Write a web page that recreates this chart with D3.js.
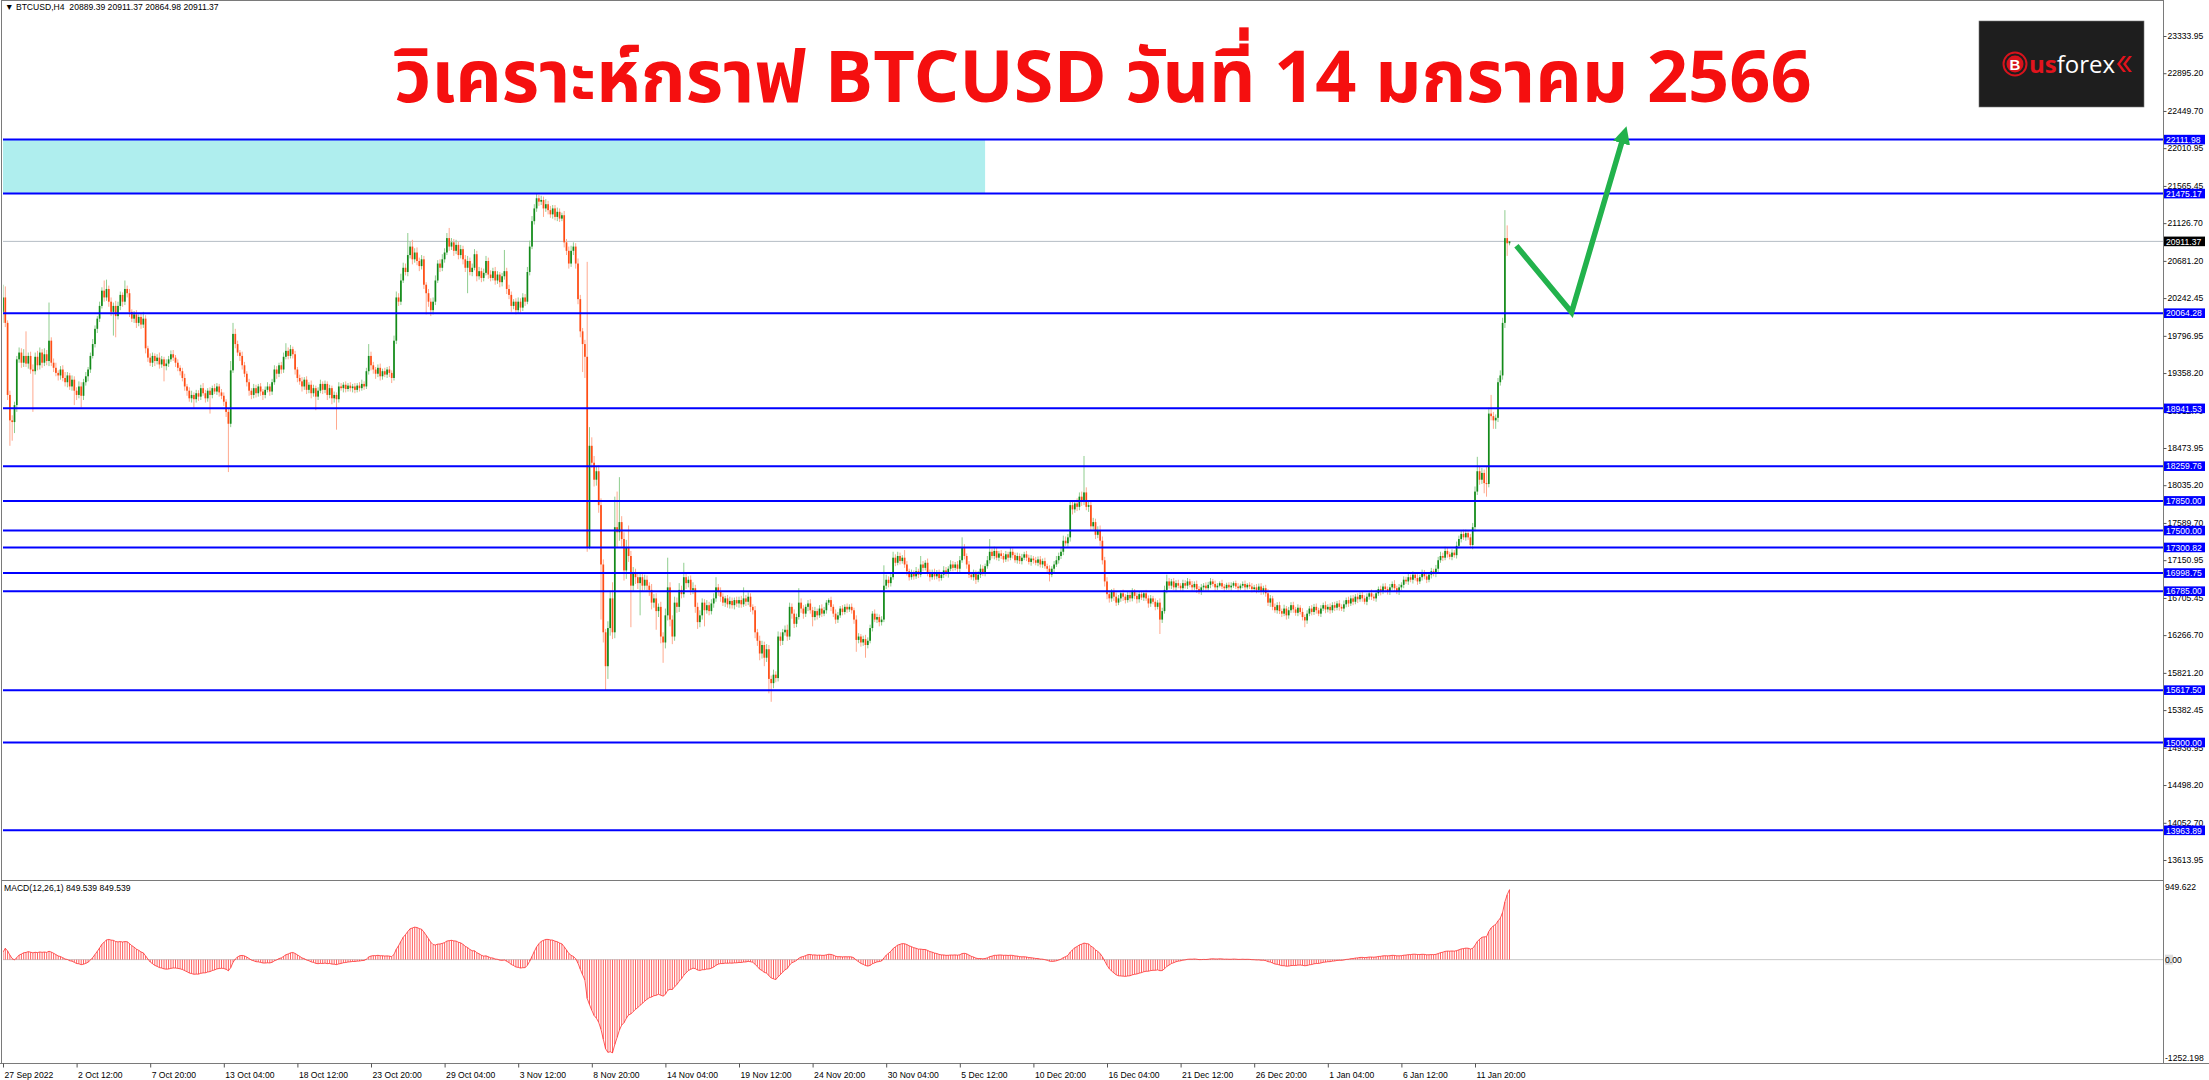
<!DOCTYPE html>
<html>
<head>
<meta charset="utf-8">
<title>BTCUSD H4</title>
<script src="https://cdn.jsdelivr.net/npm/d3@7"></script>
<style>
  html, body { margin: 0; padding: 0; background: #fff; }
  svg { display: block; }
  .mt text { font-family: "Liberation Sans", Arial, sans-serif; font-size: 8.6px; fill: #000; }
</style>
</head>
<body>
<div id="chart"></div>
<script>
// ---- data (BTCUSD H4) ----
const symbol = 'BTCUSD,H4';
const firstBar = Date.UTC(2022, 8, 27, 4);   // 27 Sep 2022 04:00, first visible bar
const barHours = 4;
const firstOpen = 20080;
const priorClose = 19100;                     // level before the first bar, warms up the MACD EMAs

// closes, 16 bars per row; each bar opens at the previous close (24/7 market)
const closes = [
  20250,19950,19100,18800,18780,18980,19520,19600,19480,19560,19470,19560,19400,19380,19550,19450,
  19600,19480,19580,19500,19740,19480,19420,19360,19330,19400,19300,19250,19330,19200,19280,19150,
  19100,19200,19090,19250,19320,19400,19560,19700,19880,20000,20150,20330,20250,20350,20200,20080,
  20150,20030,20150,20280,20200,20350,20300,20080,20000,20050,19950,20020,19930,20000,19650,19540,
  19480,19560,19500,19540,19460,19520,19440,19470,19520,19580,19540,19480,19420,19380,19300,19200,
  19150,19060,19100,19050,19120,19080,19180,19120,19060,19150,19100,19180,19140,19200,19130,19090,
  19020,18900,18760,19390,19820,19700,19600,19560,19450,19350,19250,19150,19100,19180,19120,19200,
  19140,19100,19160,19200,19140,19250,19400,19350,19450,19400,19550,19620,19560,19640,19580,19400,
  19300,19260,19200,19280,19160,19220,19120,19180,19080,19150,19230,19160,19230,19100,19180,19060,
  19100,19050,19200,19180,19220,19170,19210,19180,19200,19160,19210,19180,19230,19200,19380,19560,
  19450,19400,19350,19420,19320,19380,19340,19400,19360,19300,19740,20250,20200,20450,20600,20550,
  20750,20850,20700,20780,20680,20620,20700,20400,20300,20200,20100,20200,20450,20650,20600,20700,
  20780,20950,20850,20900,20800,20870,20750,20820,20700,20600,20680,20550,20600,20760,20500,20560,
  20480,20540,20680,20520,20480,20560,20450,20520,20430,20500,20560,20350,20280,20150,20200,20100,
  20200,20130,20250,20200,20550,20850,21150,21300,21420,21380,21400,21300,21350,21280,21230,21300,
  21200,21260,21180,21220,20900,20800,20650,20800,20850,20650,20230,19850,19700,19550,17300,18500,
  18300,18100,18200,17800,17100,16300,15900,16350,16700,16300,17540,17480,17600,17400,17030,17300,
  17200,16850,17000,16950,16880,16950,16850,16920,16850,16800,16650,16700,16550,16600,16250,16180,
  16500,16830,16450,16250,16650,16600,16800,16750,16950,16880,16920,16800,16820,16600,16420,16500,
  16650,16560,16620,16550,16640,16700,16830,16780,16720,16650,16700,16630,16670,16620,16680,16640,
  16680,16630,16700,16660,16720,16600,16560,16300,16200,16050,16150,16000,16100,15750,15700,15800,
  15760,16250,16200,16300,16330,16250,16600,16520,16400,16480,16650,16580,16520,16600,16640,16560,
  16480,16550,16500,16580,16520,16560,16650,16680,16600,16520,16450,16500,16580,16540,16600,16570,
  16600,16560,16450,16210,16250,16180,16220,16150,16200,16350,16520,16450,16480,16420,16450,16850,
  16920,16880,16950,17180,17120,17200,17140,17180,17100,17020,16950,17000,16960,17020,16980,17100,
  17060,17120,17000,16950,17010,16960,17000,16940,16980,17030,16990,17050,17100,17060,17100,17050,
  17150,17300,17200,17100,16980,16950,17000,16920,16980,17050,17000,17080,17150,17250,17200,17260,
  17180,17230,17200,17160,17220,17180,17250,17210,17150,17200,17140,17180,17220,17180,17130,17170,
  17150,17120,17160,17100,17140,17080,17050,16980,17050,17100,17150,17200,17250,17380,17350,17420,
  17800,17750,17820,17780,17900,17850,17950,17780,17800,17550,17600,17450,17500,17380,17150,16900,
  16750,16700,16780,16720,16650,16700,16760,16720,16680,16740,16700,16780,16730,16690,16750,16710,
  16760,16700,16640,16700,16660,16600,16650,16450,16550,16800,16900,16850,16900,16830,16880,16850,
  16820,16880,16850,16900,16860,16830,16870,16810,16780,16830,16850,16820,16860,16900,16870,16830,
  16850,16880,16840,16820,16860,16830,16850,16880,16840,16820,16850,16870,16830,16860,16840,16810,
  16830,16800,16840,16780,16820,16760,16650,16700,16600,16560,16620,16550,16520,16580,16500,16560,
  16620,16570,16530,16590,16540,16480,16440,16520,16580,16540,16600,16560,16520,16580,16620,16570,
  16600,16560,16620,16590,16640,16600,16580,16630,16680,16640,16700,16660,16720,16690,16740,16700,
  16660,16720,16760,16720,16700,16760,16810,16780,16840,16810,16780,16830,16870,16820,16780,16830,
  16860,16920,16900,16950,16920,16980,16940,16900,16950,17000,16960,16920,16980,17020,16990,17050,
  17150,17200,17180,17260,17220,17190,17240,17210,17320,17400,17460,17420,17470,17420,17330,17540,
  17960,18200,18100,18180,18060,18050,18880,18850,18800,18830,19250,19330,19950,20950,20889.39,20911.37
];

// upper wick above the body, in dollars
const wickUp = [
  150,130,30,50,60,40,40,60,50,80,290,40,50,60,50,70,
  60,40,70,50,450,40,50,60,30,40,50,70,40,30,50,40,
  40,60,50,40,50,30,40,60,40,30,50,40,120,110,40,50,
  40,60,50,40,30,100,40,50,30,40,50,30,40,80,40,30,
  50,40,30,40,60,40,30,50,40,45,50,30,40,30,40,50,
  30,40,50,30,40,35,40,60,40,30,40,30,50,40,30,40,
  40,30,40,110,130,60,40,30,50,40,30,40,30,50,40,30,
  40,30,40,50,30,40,50,40,30,40,50,90,40,50,30,40,
  30,40,50,30,40,30,50,40,30,40,50,30,40,30,40,30,
  40,30,50,40,30,40,30,40,30,40,30,40,50,30,40,140,
  50,40,30,40,50,30,40,30,40,30,60,70,50,80,60,50,
  260,60,80,50,60,40,50,40,30,50,40,50,60,40,50,60,
  50,60,120,50,40,60,40,50,40,50,60,40,50,60,40,50,
  40,50,60,40,50,40,50,40,30,40,250,40,50,40,30,40,
  50,40,50,40,60,70,60,50,50,40,50,40,60,40,50,40,
  40,50,40,30,50,40,50,60,50,40,60,50,40,50,1120,220,
  100,80,60,70,80,60,40,80,90,190,360,420,530,70,80,90,
  260,60,70,50,60,40,50,60,50,40,70,50,60,40,60,50,
  80,350,60,50,70,60,80,50,170,60,40,50,70,40,50,60,
  50,40,60,40,50,60,120,40,50,40,30,40,50,40,30,40,
  40,50,130,40,50,40,30,50,40,60,50,40,60,50,40,60,
  40,60,50,40,50,60,50,40,50,40,170,50,40,30,40,50,
  40,50,30,40,50,40,30,20,40,30,50,40,30,40,30,40,
  30,40,30,50,40,30,40,50,40,40,30,50,40,30,40,240,
  60,40,50,70,40,50,40,30,90,40,30,40,30,50,30,100,
  40,30,50,40,30,40,35,40,30,50,40,30,50,40,30,40,
  50,120,40,30,40,30,40,30,40,50,40,30,50,150,40,50,
  40,30,40,35,40,30,50,40,30,40,30,45,30,40,35,40,
  30,40,35,40,30,40,30,40,30,40,50,40,50,60,50,40,
  60,50,40,60,50,60,430,60,50,40,50,40,50,60,50,40,
  50,40,30,40,50,40,30,45,30,40,35,40,30,40,35,40,
  30,40,35,40,30,40,30,50,40,50,80,40,30,40,35,40,
  30,40,35,40,30,45,30,40,35,40,30,40,35,40,30,40,
  30,20,40,30,25,30,40,20,30,40,25,30,40,20,30,40,
  30,40,35,40,30,40,50,40,30,40,35,40,30,45,30,40,
  35,40,30,40,30,45,30,40,30,40,35,40,30,40,30,45,
  30,40,35,40,30,40,30,45,30,40,35,40,30,40,30,40,
  35,40,30,45,30,40,30,40,35,40,30,40,30,45,30,40,
  30,40,35,40,30,40,30,45,30,40,35,40,30,40,30,45,
  40,50,40,50,40,30,40,30,50,40,40,50,40,30,40,50,
  60,170,50,60,40,200,70,220,50,40,50,60,60,330,150,0
];

// lower wick below the body, in dollars
const wickDn = [
  130,50,60,300,220,130,80,40,60,50,40,60,50,480,40,60,
  50,60,40,50,60,40,50,40,60,50,40,50,60,40,50,170,
  60,40,140,50,40,60,40,30,40,50,40,30,50,40,60,50,
  280,250,40,50,60,40,50,60,40,50,60,40,50,40,60,50,
  40,50,60,40,50,40,180,50,40,30,40,50,40,50,40,50,
  60,40,50,100,40,50,40,30,50,40,220,40,30,40,50,40,
  50,60,570,40,30,50,40,60,50,40,50,60,50,40,50,40,
  50,60,40,30,50,40,30,60,40,50,40,30,40,30,50,60,
  50,40,60,40,50,40,60,40,160,40,30,50,40,60,40,70,
  50,360,40,30,50,40,30,40,50,40,30,40,30,40,30,40,
  60,50,60,40,50,40,30,40,50,60,30,40,50,40,30,40,
  50,40,60,40,50,60,40,50,250,60,70,50,40,30,50,40,
  40,30,50,40,60,40,50,40,60,50,300,40,50,30,60,40,
  50,40,30,50,40,30,50,40,60,50,40,60,50,70,40,50,
  40,60,40,50,30,40,30,40,40,50,40,100,40,50,40,50,
  40,50,40,30,60,50,60,40,50,60,60,70,330,250,50,20,
  60,80,70,90,650,120,280,150,90,80,70,180,100,90,120,100,
  70,490,60,80,70,380,60,50,60,70,80,60,220,70,80,240,
  70,60,80,90,50,70,60,50,40,70,50,60,50,70,80,60,
  50,190,40,50,40,50,40,50,60,40,50,40,50,40,50,40,
  50,40,30,50,40,60,50,70,60,80,60,100,50,170,220,60,
  50,40,60,50,40,50,40,60,50,40,30,50,60,40,50,40,
  110,40,50,30,40,30,40,30,50,40,50,40,30,40,30,40,
  30,40,50,140,40,50,40,150,40,30,40,30,40,50,40,30,
  40,50,40,30,40,30,40,30,40,50,40,30,40,30,40,30,
  40,30,40,50,30,40,35,40,30,40,30,45,30,40,30,40,
  40,30,40,50,40,30,40,50,30,40,35,40,30,40,30,40,
  30,40,35,40,30,45,30,40,30,40,35,40,30,40,30,45,
  40,30,40,35,40,30,40,80,30,40,30,40,35,40,30,40,
  50,60,40,50,40,60,50,40,60,50,40,50,40,60,50,60,
  60,50,40,50,40,30,40,50,40,30,40,35,40,50,40,30,
  40,30,50,40,30,40,30,170,40,30,40,35,40,30,40,30,
  30,40,35,40,30,40,30,45,30,40,35,40,30,40,30,40,
  30,20,30,40,20,30,40,25,30,40,20,30,40,25,30,40,
  30,40,30,40,35,40,40,50,40,30,40,35,40,30,50,40,
  30,40,35,40,30,40,80,40,30,40,35,40,30,40,30,45,
  35,40,30,40,30,45,30,40,35,40,30,40,30,45,30,40,
  30,40,35,40,30,40,30,45,30,40,35,40,30,40,30,40,
  35,40,30,40,30,45,30,40,30,40,35,40,30,45,30,40,
  40,30,40,30,40,30,40,30,40,30,40,30,40,30,40,50,
  50,40,60,50,120,150,40,50,100,100,50,40,50,60,149.39,24.41
];

// right-hand price scale labels as printed by the terminal
const priceTicks = [23333.95, 22895.20, 22449.70, 22010.95, 21565.45, 21126.70, 20681.20, 20242.45,
  19796.95, 19358.20, 18912.70, 18473.95, 18035.20, 17589.70, 17150.95, 16705.45, 16266.70,
  15821.20, 15382.45, 14936.95, 14498.20, 14052.70, 13613.95];

// blue horizontal support / resistance lines
const levels = [22111.98, 21475.17, 20064.28, 18941.53, 18259.76, 17850.00, 17500.00,
  17300.82, 16998.75, 16785.00, 15617.50, 15000.00, 13963.89];

// supply zone: bar range and price range
const zoneBars = [0, 427];
const zonePrices = [21475.17, 22111.98];

// green forecast arrow: [bar index, price]
const arrowPts = [[658, 20860], [682, 20074], [705, 22190]];

// MACD sub-window scale labels and the values shown in its caption
const macdTicks = [949.622, 0, -1252.198];
const macdCaption = [849.539, 849.539];

const titleText = 'วิเคราะห์กราฟ BTCUSD วันที่ 14 มกราคม 2566';

// ---- layout ----
const width = 2209, height = 1080;
const plotL = 3, plotR = 2163;
const priceTop = 1, priceBottom = 880;
const macdTop = 881, macdBottom = 1063;

if (closes.length !== wickUp.length || closes.length !== wickDn.length) {
  throw new Error(`length mismatch ${closes.length} ${wickUp.length} ${wickDn.length}`);
}

const bars = closes.map((c, i) => {
  const o = i ? closes[i - 1] : firstOpen;
  return {
    i, o, c,
    h: Math.max(o, c) + wickUp[i],
    l: Math.min(o, c) - wickDn[i],
    t: new Date(firstBar + i * barHours * 3600e3)
  };
});

// MACD(12,26,1) main line = EMA12 - EMA26 of close
function ema(vals, n, seed) {
  const k = 2 / (n + 1);
  let e = seed;
  return vals.map(v => (e = e + k * (v - e)));
}
const e12 = ema(closes, 12, priorClose), e26 = ema(closes, 26, priorClose);
const macd = closes.map((_, i) => e12[i] - e26[i]);

const x = d3.scaleLinear().domain([0, 640]).range([3, 1475]);
const y = d3.scaleLinear().domain([13378, 23747]).range([priceBottom, priceTop]);
const yM = d3.scaleLinear().domain([d3.min(macdTicks), d3.max(macdTicks)]).range([macdBottom - 1, macdTop + 1]);

const svg = d3.select('#chart').append('svg')
  .attr('class', 'mt')
  .attr('width', width)
  .attr('height', height);

svg.append('rect').attr('width', width).attr('height', height).attr('fill', '#fff');

const defs = svg.append('defs');
defs.append('clipPath').attr('id', 'clipP')
  .append('rect').attr('x', plotL).attr('y', priceTop).attr('width', plotR - plotL).attr('height', priceBottom - priceTop);
defs.append('clipPath').attr('id', 'clipM')
  .append('rect').attr('x', plotL).attr('y', macdTop).attr('width', plotR - plotL).attr('height', macdBottom - macdTop);
defs.append('marker')
  .attr('id', 'arrowHead')
  .attr('viewBox', '0 0 10 10')
  .attr('refX', 6).attr('refY', 5)
  .attr('markerWidth', 3.2).attr('markerHeight', 3.2)
  .attr('orient', 'auto')
  .append('path').attr('d', 'M0,0L10,5L0,10z').attr('fill', '#22b24c');

const gP = svg.append('g').attr('clip-path', 'url(#clipP)');

// zone
gP.append('rect')
  .attr('x', x(zoneBars[0]) - 1)
  .attr('width', x(zoneBars[1]) - x(zoneBars[0]) + 1)
  .attr('y', y(zonePrices[1]))
  .attr('height', y(zonePrices[0]) - y(zonePrices[1]))
  .attr('fill', '#afeeee');

// bid line
const last = bars[bars.length - 1];
gP.append('line')
  .attr('x1', plotL).attr('x2', plotR)
  .attr('y1', y(last.c)).attr('y2', y(last.c))
  .attr('stroke', '#b4bcc4').attr('stroke-width', 1);

// candles
const up = d => d.c >= d.o;
gP.append('g').selectAll('line').data(bars).join('line')
  .attr('x1', d => x(d.i)).attr('x2', d => x(d.i))
  .attr('y1', d => y(d.h)).attr('y2', d => y(d.l))
  .attr('stroke', d => up(d) ? '#8fcd8f' : '#ffa98e')
  .attr('stroke-width', 1);

gP.append('g').selectAll('rect').data(bars).join('rect')
  .attr('x', d => x(d.i) - 0.85)
  .attr('width', 1.7)
  .attr('y', d => y(Math.max(d.o, d.c)))
  .attr('height', d => Math.max(1, Math.abs(y(d.o) - y(d.c))))
  .attr('fill', d => up(d) ? '#138a1a' : '#ff4d14');

// levels
gP.append('g').selectAll('line').data(levels).join('line')
  .attr('x1', plotL).attr('x2', plotR)
  .attr('y1', d => y(d)).attr('y2', d => y(d))
  .attr('stroke', '#0000ff').attr('stroke-width', 2);

// forecast arrow
gP.append('path')
  .datum(arrowPts)
  .attr('d', d3.line().x(d => x(d[0])).y(d => y(d[1])))
  .attr('fill', 'none')
  .attr('stroke', '#22b24c')
  .attr('stroke-width', 5.5)
  .attr('stroke-linejoin', 'miter')
  .attr('marker-end', 'url(#arrowHead)');

// title
svg.append('text')
  .attr('x', 1103).attr('y', 102)
  .attr('text-anchor', 'middle')
  .style('font-family', '"Noto Sans Thai", "Leelawadee UI", Tahoma, Loma, Garuda, "Noto Sans", sans-serif')
  .style('font-size', '72px')
  .style('font-weight', 'bold')
  .style('fill', '#f50f0f')
  .text(titleText);

// logo
const logo = svg.append('g').attr('transform', 'translate(1979,21)');
logo.append('rect').attr('width', 165).attr('height', 86).attr('fill', '#1e1e1e').attr('stroke', '#777').attr('stroke-width', 0.6);
logo.append('circle').attr('cx', 36).attr('cy', 43).attr('r', 11.5).attr('fill', 'none').attr('stroke', '#d7131c').attr('stroke-width', 2);
logo.append('circle').attr('cx', 36).attr('cy', 43).attr('r', 8.5).attr('fill', '#d7131c');
logo.append('text').attr('x', 36).attr('y', 48.5).attr('text-anchor', 'middle')
  .style('font-size', '15px').style('font-weight', 'bold').style('fill', '#fff').text('B');
const word = logo.append('text').attr('x', 50).attr('y', 52)
  .style('font-size', '24px').style('font-family', '"Open Sans", "Liberation Sans", sans-serif');
word.append('tspan').style('fill', '#e2141d').style('font-weight', 'bold').text('us');
word.append('tspan').style('fill', '#fff').text('forex');
const wordEnd = 50 + word.node().getComputedTextLength();
logo.append('g').selectAll('path').data([0, 6]).join('path')
  .attr('transform', d => `translate(${wordEnd + 2 + d},35)`)
  .attr('d', 'M6,0L0,8L6,16L9,16L3,8L9,0Z')
  .attr('fill', '#e2141d');

// header
const f2 = d3.format('.2f');
svg.append('text').attr('x', 5).attr('y', 10)
  .style('white-space', 'pre')
  .text(`\u25BC ${symbol}  ${f2(last.o)} ${f2(last.h)} ${f2(last.l)} ${f2(last.c)}`);

// MACD histogram
const gM = svg.append('g').attr('clip-path', 'url(#clipM)');
gM.append('line')
  .attr('x1', plotL).attr('x2', plotR)
  .attr('y1', yM(0)).attr('y2', yM(0))
  .attr('stroke', '#c8c8c8');
gM.append('g').selectAll('line').data(macd).join('line')
  .attr('x1', (d, i) => x(i)).attr('x2', (d, i) => x(i))
  .attr('y1', yM(0)).attr('y2', d => yM(d))
  .attr('stroke', '#ff5050').attr('stroke-width', 0.9);
gM.append('path')
  .datum(macd)
  .attr('d', d3.line().x((d, i) => x(i)).y(d => yM(d)))
  .attr('fill', 'none').attr('stroke', '#ff3030').attr('stroke-width', 0.8);

svg.append('text').attr('x', 4).attr('y', 891)
  .text(`MACD(12,26,1) ${macdCaption[0].toFixed(3)} ${macdCaption[1].toFixed(3)}`);

// frames
const frame = svg.append('g').attr('stroke', '#7a7a7a').attr('fill', 'none');
frame.append('line').attr('x1', 1.5).attr('x2', 1.5).attr('y1', 0).attr('y2', macdBottom);
frame.append('line').attr('x1', 1.5).attr('x2', plotR).attr('y1', 0.5).attr('y2', 0.5);
frame.append('line').attr('x1', plotR + 0.5).attr('x2', plotR + 0.5).attr('y1', 0).attr('y2', macdBottom);
frame.append('line').attr('x1', 1.5).attr('x2', plotR).attr('y1', priceBottom + 0.5).attr('y2', priceBottom + 0.5);
frame.append('line').attr('x1', 0).attr('x2', width).attr('y1', macdBottom + 0.5).attr('y2', macdBottom + 0.5);

// price axis
svg.append('g')
  .attr('transform', `translate(${plotR + 0.5},0)`)
  .call(d3.axisRight(y).tickValues(priceTicks).tickSize(3).tickPadding(1).tickFormat(f2))
  .call(g => g.select('.domain').remove())
  .call(g => g.selectAll('line').attr('stroke', '#555'))
  .call(g => g.selectAll('text').attr('fill', '#000').style('font-size', '8.6px'));

// level tags
const tags = svg.append('g').selectAll('g').data(levels).join('g')
  .attr('transform', d => `translate(${plotR + 1},${y(d)})`);
tags.append('rect').attr('x', 0).attr('y', -4.8).attr('width', 41).attr('height', 9.6).attr('fill', '#0000ff');
tags.append('text').attr('x', 2).attr('y', 3.2).style('fill', '#fff').text(d => f2(d));

const bid = svg.append('g').attr('transform', `translate(${plotR + 1},${y(last.c)})`);
bid.append('rect').attr('x', 0).attr('y', -4.8).attr('width', 41).attr('height', 9.6).attr('fill', '#000');
bid.append('text').attr('x', 2).attr('y', 3.2).style('fill', '#fff').text(f2(last.c));

// MACD scale
const mFmt = v => v === 0 ? '0.00' : String(v);
svg.append('rect').attr('x', plotR + 2).attr('y', yM(0) - 5).attr('width', 8).attr('height', 10).attr('fill', '#ddd');
svg.append('g').selectAll('text').data(macdTicks).join('text')
  .attr('x', plotR + 2)
  .attr('y', d => d === 0 ? yM(0) + 3 : (d > 0 ? macdTop + 9 : macdBottom - 2))
  .text(mFmt);

// time axis
const labelIdx = d3.range(0, bars.length, 32);
const fFirst = d3.utcFormat('%-d %b %Y'), fOther = d3.utcFormat('%-d %b %H:%M');
svg.append('g')
  .attr('transform', `translate(0,${macdBottom + 0.5})`)
  .call(d3.axisBottom(x).tickValues(labelIdx).tickSize(4)
    .tickFormat(i => i === 0 ? fFirst(bars[i].t) : fOther(bars[i].t)))
  .call(g => g.select('.domain').remove())
  .call(g => g.selectAll('line').attr('stroke', '#555'))
  .call(g => g.selectAll('text')
    .attr('text-anchor', 'start')
    .attr('x', 1).attr('y', 8).attr('dy', '0.71em')
    .attr('fill', '#000').style('font-size', '8.6px'));
</script>
</body>
</html>
